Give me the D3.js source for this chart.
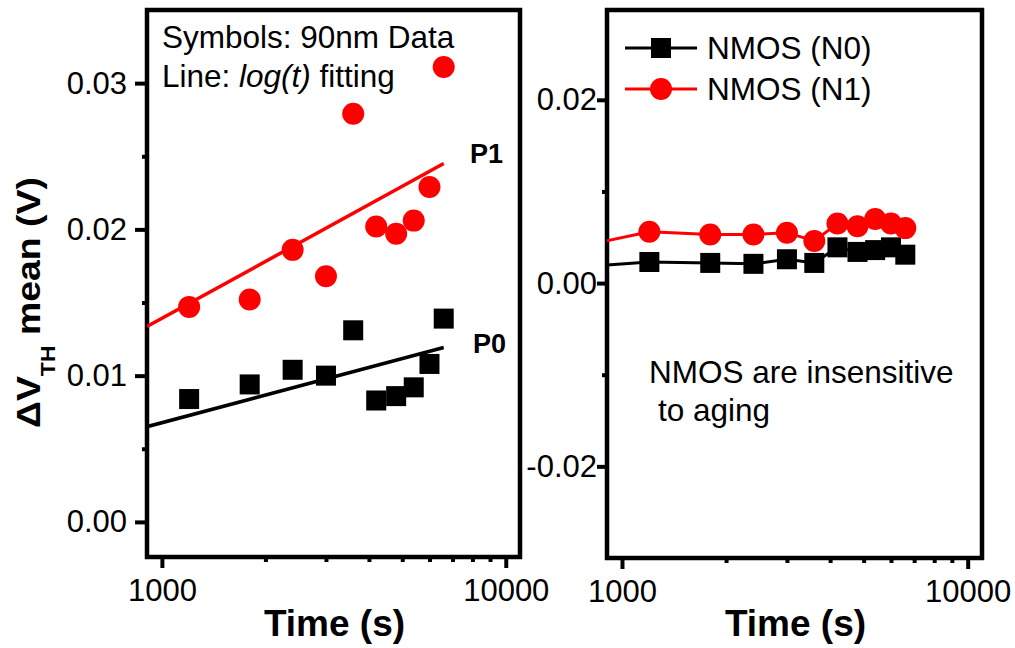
<!DOCTYPE html>
<html>
<head>
<meta charset="utf-8">
<script src="https://cdn.jsdelivr.net/npm/d3@7"></script>
<style>
body { margin: 0; background: #fff; }
text { font-family: "Liberation Sans", Arial, sans-serif; fill: #000; }
</style>
</head>
<body>
<svg width="1015" height="648"></svg>
<script>
// 90nm data, PMOS (left) stress times in seconds
var times = [1200, 1800, 2400, 3000, 3600, 4200, 4800, 5400, 6000, 6600];
var p0 = [0.0084, 0.0094, 0.0104, 0.0100, 0.0131, 0.0083, 0.0086, 0.0092, 0.0108, 0.0139];
var p1 = [0.0147, 0.0152, 0.0186, 0.0168, 0.0279, 0.0202, 0.0197, 0.0206, 0.0229, 0.0311];

// log(t) fitting lines, end points
var fitT = [905, 6600];
var p0Fit = [0.00651, 0.01192];
var p1Fit = [0.01336, 0.0245];

// NMOS (right)
var nTimes = [600, 1200, 1800, 2400, 3000, 3600, 4200, 4800, 5400, 6000, 6600];
var n0 = [0.0015, 0.0023, 0.0022, 0.0021, 0.0026, 0.0022, 0.0039, 0.0034, 0.0036, 0.0039, 0.0031];
var n1 = [0.0032, 0.0056, 0.0053, 0.0053, 0.0055, 0.0046, 0.0065, 0.0062, 0.0070, 0.0065, 0.0060];

// ticks
var xMajor = [1000, 10000];
var xMinor = [2000, 3000, 4000, 5000, 6000, 7000, 8000, 9000];
var leftYMajor = [0, 0.01, 0.02, 0.03];
var leftYMinor = [0.005, 0.015, 0.025];
var rightYMajor = [-0.02, 0, 0.02];
var rightYMinor = [-0.01, 0.01];

var svg = d3.select("svg");
var red = "#ff0000";

function panel(id, box, yDomain, yMajor, yMinor, yTick, yPad) {
    var x = d3.scaleLog().domain([905, 11000]).range([box.l, box.r]);
    var y = d3.scaleLinear().domain(yDomain).range([box.b, box.t]);

    svg.append("clipPath").attr("id", id)
        .append("rect")
        .attr("x", box.l).attr("y", box.t)
        .attr("width", box.r - box.l).attr("height", box.b - box.t);

    // x axis, major + minor
    var gx = svg.append("g").attr("transform", "translate(0," + box.b + ")");
    gx.call(d3.axisBottom(x).tickValues(xMajor).tickSize(11).tickPadding(11)
        .tickFormat(function (d) { return d; }));
    gx.call(function (g) { g.select(".domain").remove(); });
    var gx2 = svg.append("g").attr("transform", "translate(0," + box.b + ")");
    gx2.call(d3.axisBottom(x).tickValues(xMinor).tickSize(5).tickFormat(""));
    gx2.select(".domain").remove();

    // y axis
    var gy = svg.append("g").attr("transform", "translate(" + box.l + ",0)");
    gy.call(d3.axisLeft(y).tickValues(yMajor).tickSize(yTick).tickPadding(yPad)
        .tickFormat(function (d) { return d.toFixed(2); }));
    gy.select(".domain").remove();
    var gy2 = svg.append("g").attr("transform", "translate(" + box.l + ",0)");
    gy2.call(d3.axisLeft(y).tickValues(yMinor).tickSize(5).tickFormat(""));
    gy2.select(".domain").remove();

    svg.selectAll(".tick line").attr("stroke", "#000").attr("stroke-width", 4);
    svg.selectAll(".tick text")
        .style("font-size", "31px")
        .style("font-family", "'Liberation Sans', Arial, sans-serif");

    svg.append("rect")
        .attr("x", box.l).attr("y", box.t)
        .attr("width", box.r - box.l).attr("height", box.b - box.t)
        .attr("fill", "none").attr("stroke", "#000").attr("stroke-width", 4.5);

    svg.append("text")
        .attr("x", (box.l + box.r) / 2 + 1).attr("y", 636)
        .attr("text-anchor", "middle")
        .style("font-size", "37px").style("font-weight", "bold")
        .text("Time (s)");

    return { x: x, y: y, clip: "url(#" + id + ")" };
}

// ---------- left panel ----------
var L = panel("clipL", { l: 147, r: 520, t: 10, b: 557 }, [-0.0024, 0.035],
    leftYMajor, leftYMinor, 12, 8);
L.g = svg.append("g").attr("clip-path", L.clip);

function fitLine(vals) {
    return d3.line()
        .x(function (d, i) { return L.x(fitT[i]); })
        .y(function (d) { return L.y(d); })(vals);
}
L.g.append("path").attr("d", fitLine(p1Fit))
    .attr("fill", "none").attr("stroke", red).attr("stroke-width", 3.5);
L.g.append("path").attr("d", fitLine(p0Fit))
    .attr("fill", "none").attr("stroke", "#000").attr("stroke-width", 3.5);

L.g.selectAll("rect.p0").data(p0).enter().append("rect")
    .attr("class", "p0")
    .attr("x", function (d, i) { return L.x(times[i]) - 10; })
    .attr("y", function (d) { return L.y(d) - 10; })
    .attr("width", 20).attr("height", 20).attr("fill", "#000");
L.g.selectAll("circle.p1").data(p1).enter().append("circle")
    .attr("class", "p1")
    .attr("cx", function (d, i) { return L.x(times[i]); })
    .attr("cy", function (d) { return L.y(d); })
    .attr("r", 11).attr("fill", red);

svg.append("text").attr("x", 162).attr("y", 48)
    .style("font-size", "31.5px").text("Symbols: 90nm Data");
var t2 = svg.append("text").attr("x", 162).attr("y", 87).style("font-size", "31.5px");
t2.append("tspan").text("Line: ");
t2.append("tspan").style("font-style", "italic").text("log(t)");
t2.append("tspan").text(" fitting");

svg.append("text").attr("x", 470).attr("y", 163)
    .style("font-size", "27px").style("font-weight", "bold").text("P1");
svg.append("text").attr("x", 473).attr("y", 353)
    .style("font-size", "27px").style("font-weight", "bold").text("P0");

// y title
var yt = svg.append("text")
    .style("font-size", "34px").style("font-weight", "bold");
yt.append("tspan").text("\u0394V");
yt.append("tspan").attr("dy", 15).style("font-size", "21px").text("TH");
yt.append("tspan").attr("dy", -15).text(" mean (V)");
var len = yt.node().getComputedTextLength();
yt.attr("transform", "translate(40,428) rotate(-90) scale(" + (251 / len) + ",1)");

// ---------- right panel ----------
var R = panel("clipR", { l: 607, r: 982, t: 10, b: 558 }, [-0.03, 0.0298],
    rightYMajor, rightYMinor, 10, 0);
R.g = svg.append("g").attr("clip-path", R.clip);

var nLine = d3.line()
    .x(function (d, i) { return R.x(nTimes[i]); })
    .y(function (d) { return R.y(d); });

R.g.append("path").attr("d", nLine(n1))
    .attr("fill", "none").attr("stroke", red).attr("stroke-width", 3);
R.g.append("path").attr("d", nLine(n0))
    .attr("fill", "none").attr("stroke", "#000").attr("stroke-width", 3);
R.g.selectAll("rect.n0").data(n0).enter().append("rect")
    .attr("class", "n0")
    .attr("x", function (d, i) { return R.x(nTimes[i]) - 10; })
    .attr("y", function (d) { return R.y(d) - 10; })
    .attr("width", 20).attr("height", 20).attr("fill", "#000");
R.g.selectAll("circle.n1").data(n1).enter().append("circle")
    .attr("class", "n1")
    .attr("cx", function (d, i) { return R.x(nTimes[i]); })
    .attr("cy", function (d) { return R.y(d); })
    .attr("r", 11).attr("fill", red);

// legend
var legend = [
    { name: "NMOS (N0)", color: "#000", shape: "square", y: 48 },
    { name: "NMOS (N1)", color: red, shape: "circle", y: 89 }
];
legend.forEach(function (d) {
    svg.append("line").attr("x1", 625).attr("x2", 697)
        .attr("y1", d.y).attr("y2", d.y)
        .attr("stroke", d.color).attr("stroke-width", 3);
    if (d.shape == "square") {
        svg.append("rect").attr("x", 651).attr("y", d.y - 10)
            .attr("width", 20).attr("height", 20).attr("fill", d.color);
    } else {
        svg.append("circle").attr("cx", 661).attr("cy", d.y)
            .attr("r", 11).attr("fill", d.color);
    }
    svg.append("text").attr("x", 707).attr("y", d.y + 11)
        .style("font-size", "31.5px").text(d.name);
});

svg.append("text").attr("x", 649).attr("y", 383)
    .style("font-size", "31.5px").text("NMOS are insensitive");
svg.append("text").attr("x", 658).attr("y", 421)
    .style("font-size", "31.5px").text("to aging");
</script>
</body>
</html>
